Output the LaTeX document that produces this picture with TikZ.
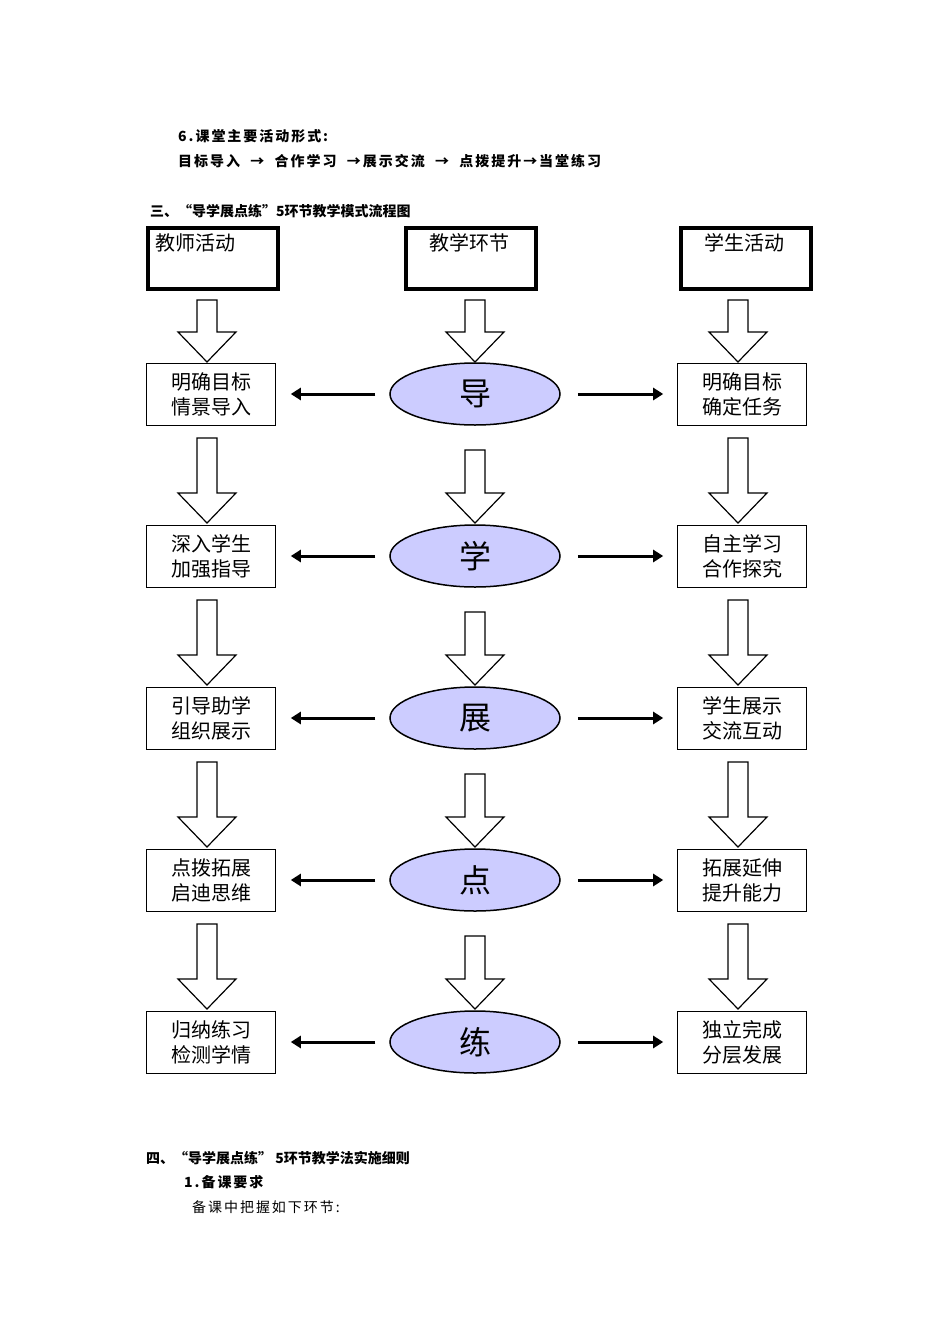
\documentclass[tikz,border=0pt]{standalone}
\usepackage{fontspec}
\setmainfont{Noto Sans CJK SC}
\newfontfamily\spaced[LetterSpace=14]{Noto Sans CJK SC}
\usetikzlibrary{shapes.geometric,arrows.meta}
\definecolor{ell}{RGB}{204,204,255}
\newcommand\blkarrow[3]{% x, ytop, ybot
  \draw[line width=1.2pt,fill=white] (#1-10,#2) -- (#1+10,#2) -- (#1+10,#3-30) -- (#1+29,#3-30) -- (#1,#3) -- (#1-29,#3-30) -- (#1-10,#3-30) -- cycle;}
\begin{document}
\begin{tikzpicture}[x=1pt,y=-1pt,
  head/.style={draw,line width=3.5pt,minimum width=130pt,minimum height=61pt,anchor=north west},
  sbox/.style={draw,line width=0.6pt,minimum width=129pt,minimum height=62pt,align=center,font=\fontsize{20}{25}\selectfont},
  ell/.style={ellipse,draw,line width=1.5pt,fill=ell,minimum width=170pt,minimum height=62pt,font=\fontsize{32}{32}\selectfont},
  harr/.style={line width=3pt,-{Triangle[length=10pt,width=12pt]}},
  txt/.style={anchor=west,inner sep=0pt,font=\spaced\bfseries\fontsize{14}{16}\selectfont}]
\useasboundingbox (0,0) rectangle (950,1344);
\node[txt] (t1) at (178,136) {6.课堂主要活动形式:};
\node[txt] (t2) at (178,161) {目标导入 \ → \ 合作学习 \ →展示交流 \ → \ 点拨提升→当堂练习};
\node[txt,font=\bfseries\fontsize{14}{16}\selectfont] (t3) at (150,211) {三、“导学展点练”5环节教学模式流程图};
\node[head] (h1) at (146,226) {}; \node[anchor=north west,font=\fontsize{20}{20}\selectfont] (h1t) at (152,230) {教师活动};
\node[head] (h2) at (404,226) {}; \node[anchor=north,font=\fontsize{20}{20}\selectfont] (h2t) at (469,230) {教学环节};
\node[head] (h3) at (679,226) {}; \node[anchor=north,font=\fontsize{20}{20}\selectfont] (h3t) at (744,230) {学生活动};
\foreach \i/\lt/\c/\rt in {0/明确目标\\情景导入/导/明确目标\\确定任务,1/深入学生\\加强指导/学/自主学习\\合作探究,2/引导助学\\组织展示/展/学生展示\\交流互动,3/点拨拓展\\启迪思维/点/拓展延伸\\提升能力,4/归纳练习\\检测学情/练/独立完成\\分层发展}{
  \pgfmathsetmacro\yy{394+162*\i}
  \node[sbox] (L\i) at (211,\yy) {\lt};
  \node[ell] (C\i) at (475,\yy) {\c};
  \node[sbox] (R\i) at (742,\yy) {\rt};
  \draw[harr] ([xshift=-14pt]C\i.west) -- ([xshift=15pt]L\i.east);
  \draw[harr] ([xshift=17pt]C\i.east) -- ([xshift=-14pt]R\i.west);
}
\blkarrow{207}{300}{362}
\blkarrow{475}{300}{362}
\blkarrow{738}{300}{362}
\foreach \i in {0,1,2,3}{
  \pgfmathsetmacro\ya{438+162*\i}
  \pgfmathsetmacro\yb{523+162*\i}
  \pgfmathsetmacro\yc{450+162*\i}
  \blkarrow{207}{\ya}{\yb}
  \blkarrow{475}{\yc}{\yb}
  \blkarrow{738}{\ya}{\yb}
}
\node[txt,font=\bfseries\fontsize{14}{16}\selectfont] (b1) at (146,1158) {四、“导学展点练” 5环节教学法实施细则};
\node[txt] (b2) at (184,1182) {1.备课要求};
\node[txt,font=\spaced\fontsize{14}{16}\selectfont] (b3) at (192,1207) {备课中把握如下环节:};
\end{tikzpicture}
\end{document}
